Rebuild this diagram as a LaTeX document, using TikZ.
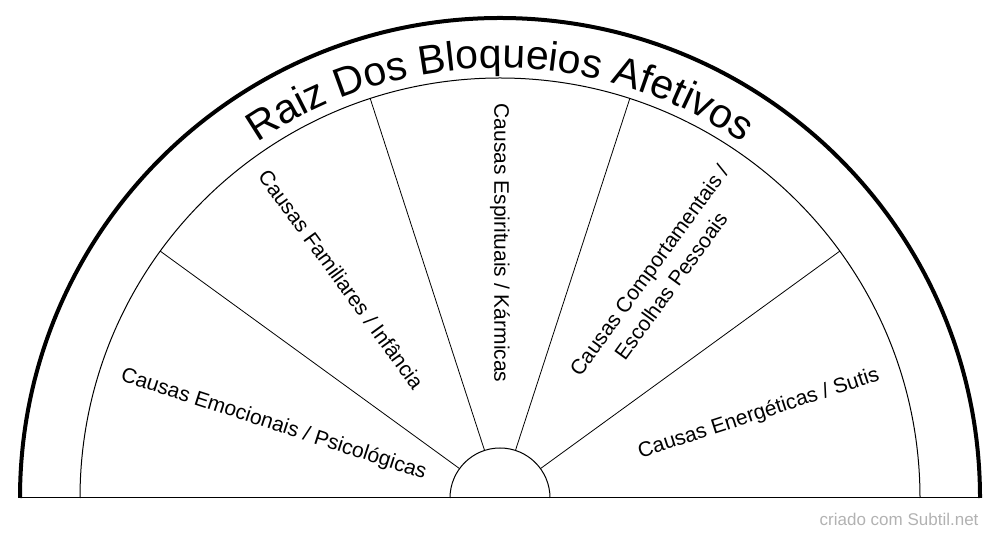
\documentclass[tikz,border=0pt]{standalone}
\usepackage{fontspec}
\setmainfont{Liberation Sans}
\usetikzlibrary{decorations.text,calc}
\begin{document}
\begin{tikzpicture}[x=1pt,y=1pt,
  lbl/.style={font=\fontsize{21}{27}\selectfont,align=center,inner sep=0pt}]
\useasboundingbox (0,0) rectangle (1000,540);
\coordinate (c) at (500,42);
\draw[line width=1pt] (20,42) -- (980,42);
\draw[line width=1pt] ($(c)+(0:420)$) arc[start angle=0,end angle=180,radius=420];
\draw[line width=1pt] ($(c)+(0:50)$) arc[start angle=0,end angle=180,radius=50];
\draw[line width=4pt] ($(c)+(0:480)$) arc[start angle=0,end angle=180,radius=480];
\foreach \a in {36,72,108,144}
  \draw[line width=0.8pt] ($(c)+(\a:50)$) -- ($(c)+(\a:420)$);
\node[lbl,rotate=-18] (l1) at ($(c)+(162:238)$) {Causas Emocionais / Psicológicas};
\node[lbl,rotate=-54] (l2) at ($(c)+(126:270)$) {Causas Familiares / Infância};
\node[lbl,rotate=-90] (l3) at ($(c)+(90:255)$) {Causas Espirituais / Kármicas};
\node[lbl,rotate=54] (l4) at ($(c)+(54:272)$) {Causas Comportamentais /\\Escolhas Pessoais};
\node[lbl,rotate=18] (l5) at ($(c)+(18:272)$) {Causas Energéticas / Sutis};
\path[decorate,decoration={text along path,text align=center,
  text={|\fontsize{41}{41}\selectfont|Raiz Dos Bloqueios Afetivos}}]
  ($(c)+(170:430)$) arc[start angle=170,end angle=10,radius=430];
\node[font=\fontsize{17}{19}\selectfont,text=gray!60,anchor=east] (w) at (982,21) {criado com Subtil.net};
\end{tikzpicture}
\end{document}
